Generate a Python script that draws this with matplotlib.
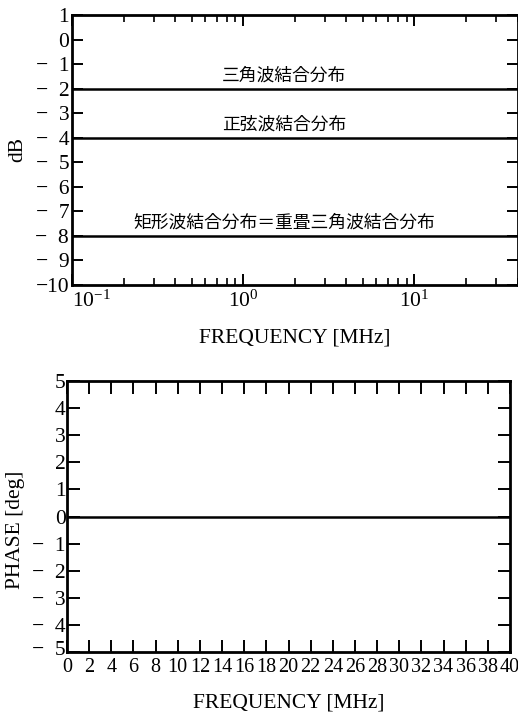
import numpy as np
import matplotlib
matplotlib.use("Agg")
import matplotlib.pyplot as plt
import matplotlib.transforms as mtransforms
from matplotlib.ticker import FixedLocator, LogLocator, FixedFormatter, LogFormatterSciNotation, NullFormatter

plt.rcParams['font.family'] = ['Liberation Serif', 'Noto Sans CJK JP']
plt.rcParams['mathtext.fontset'] = 'stix'

# Frequency sweep (MHz) and the flat responses of each coupling distribution
freq_mhz = [0.1, 40.0]
gain_triangle_db = [-2.0, -2.0]
gain_sine_db = [-4.0, -4.0]
gain_rect_db = [-8.0, -8.0]
phase_deg = [0.0, 0.0]

label_triangle = "三角波結合分布"
label_sine = "正弦波結合分布"
label_rect = "矩形波結合分布＝重畳三角波結合分布"

db_ticks = list(range(1, -11, -1))
db_ticklabels = ["1", "0"] + ["−  %d" % k for k in range(1, 10)] + ["−10"]
phase_ticks = list(range(5, -6, -1))
phase_ticklabels = [str(k) for k in range(5, -1, -1)] + ["−  %d" % k for k in range(1, 6)]
phase_freq_ticks = list(range(0, 41, 2))

W, H = 518, 723
fig = plt.figure(figsize=(W / 100, H / 100), dpi=100)

def frac(l, t, r, b):
    return [l / W, 1 - b / H, (r - l) / W, (b - t) / H]

CJK = ['Noto Sans CJK JP']
lw_axis = 2.0
fs_tick = 15.5
fs_label = 15.5

# ---- gain plot ----
ax1 = fig.add_axes(frac(72, 15, 517.5, 285))
ax1.set_xscale('log')
ax1.set_xlim(0.1, 40)
ax1.set_ylim(-10, 1)
for y, lab in [(gain_triangle_db, label_triangle), (gain_sine_db, label_sine), (gain_rect_db, label_rect)]:
    ax1.plot(freq_mhz, y, color='black', lw=1.8, solid_capstyle='butt')
    ax1.text(0.476, y[0] + 0.18, lab, transform=ax1.get_yaxis_transform(),
             ha='center', va='bottom', fontsize=12.8, family=CJK)
ax1.yaxis.set_major_locator(FixedLocator(db_ticks))
ax1.yaxis.set_major_formatter(FixedFormatter(db_ticklabels))
ax1.xaxis.set_major_locator(LogLocator(base=10, numticks=10))
ax1.xaxis.set_major_formatter(LogFormatterSciNotation())
ax1.xaxis.set_minor_locator(LogLocator(base=10, subs=np.arange(2, 10), numticks=10))
ax1.xaxis.set_minor_formatter(NullFormatter())
ax1.tick_params(axis='both', which='major', direction='in', top=True, right=True,
                length=8, width=1.4, labelsize=fs_tick, pad=2)
ax1.tick_params(axis='x', which='major', pad=4)
ax1.tick_params(axis='x', which='minor', direction='in', top=True, length=5, width=1.2)
for s in ax1.spines.values():
    s.set_linewidth(lw_axis)
ax1.set_ylabel("dB", fontsize=fs_label, labelpad=6)
ax1.set_xlabel("FREQUENCY [MHz]", fontsize=fs_label, labelpad=12)

# ---- phase plot ----
ax2 = fig.add_axes(frac(67, 381, 510, 652))
ax2.set_xlim(0, 40)
ax2.set_ylim(-5, 5)
ax2.plot([0, 40], phase_deg, color='black', lw=1.8)
ax2.xaxis.set_major_locator(FixedLocator(phase_freq_ticks))
ax2.yaxis.set_major_locator(FixedLocator(phase_ticks))
ax2.yaxis.set_major_formatter(FixedFormatter(phase_ticklabels))
ax2.tick_params(axis='both', which='major', direction='in', top=True, right=True,
                length=9, width=1.4, labelsize=fs_tick, pad=1)
ax2.tick_params(axis='x', labelsize=14.5, pad=4)
for s in ax2.spines.values():
    s.set_linewidth(lw_axis)
ax2.set_ylabel("PHASE [deg]", fontsize=fs_label)
ax2.yaxis.set_label_coords(-0.095, 0.45)
ax2.set_xlabel("FREQUENCY [MHz]", fontsize=fs_label, labelpad=12)

fig.canvas.draw()
# keep the leftmost decade label inside the frame
for t in ax1.get_xticklabels():
    if t.get_position()[0] == 0.1:
        t.set_horizontalalignment('left')
# lift the bottom phase label clear of the frequency labels
lift = mtransforms.ScaledTranslation(0, 4 / 100, fig.dpi_scale_trans)
for t in ax2.get_yticklabels():
    if t.get_position()[1] == -5:
        t.set_transform(t.get_transform() + lift)

fig.savefig("out.png", dpi=100)
